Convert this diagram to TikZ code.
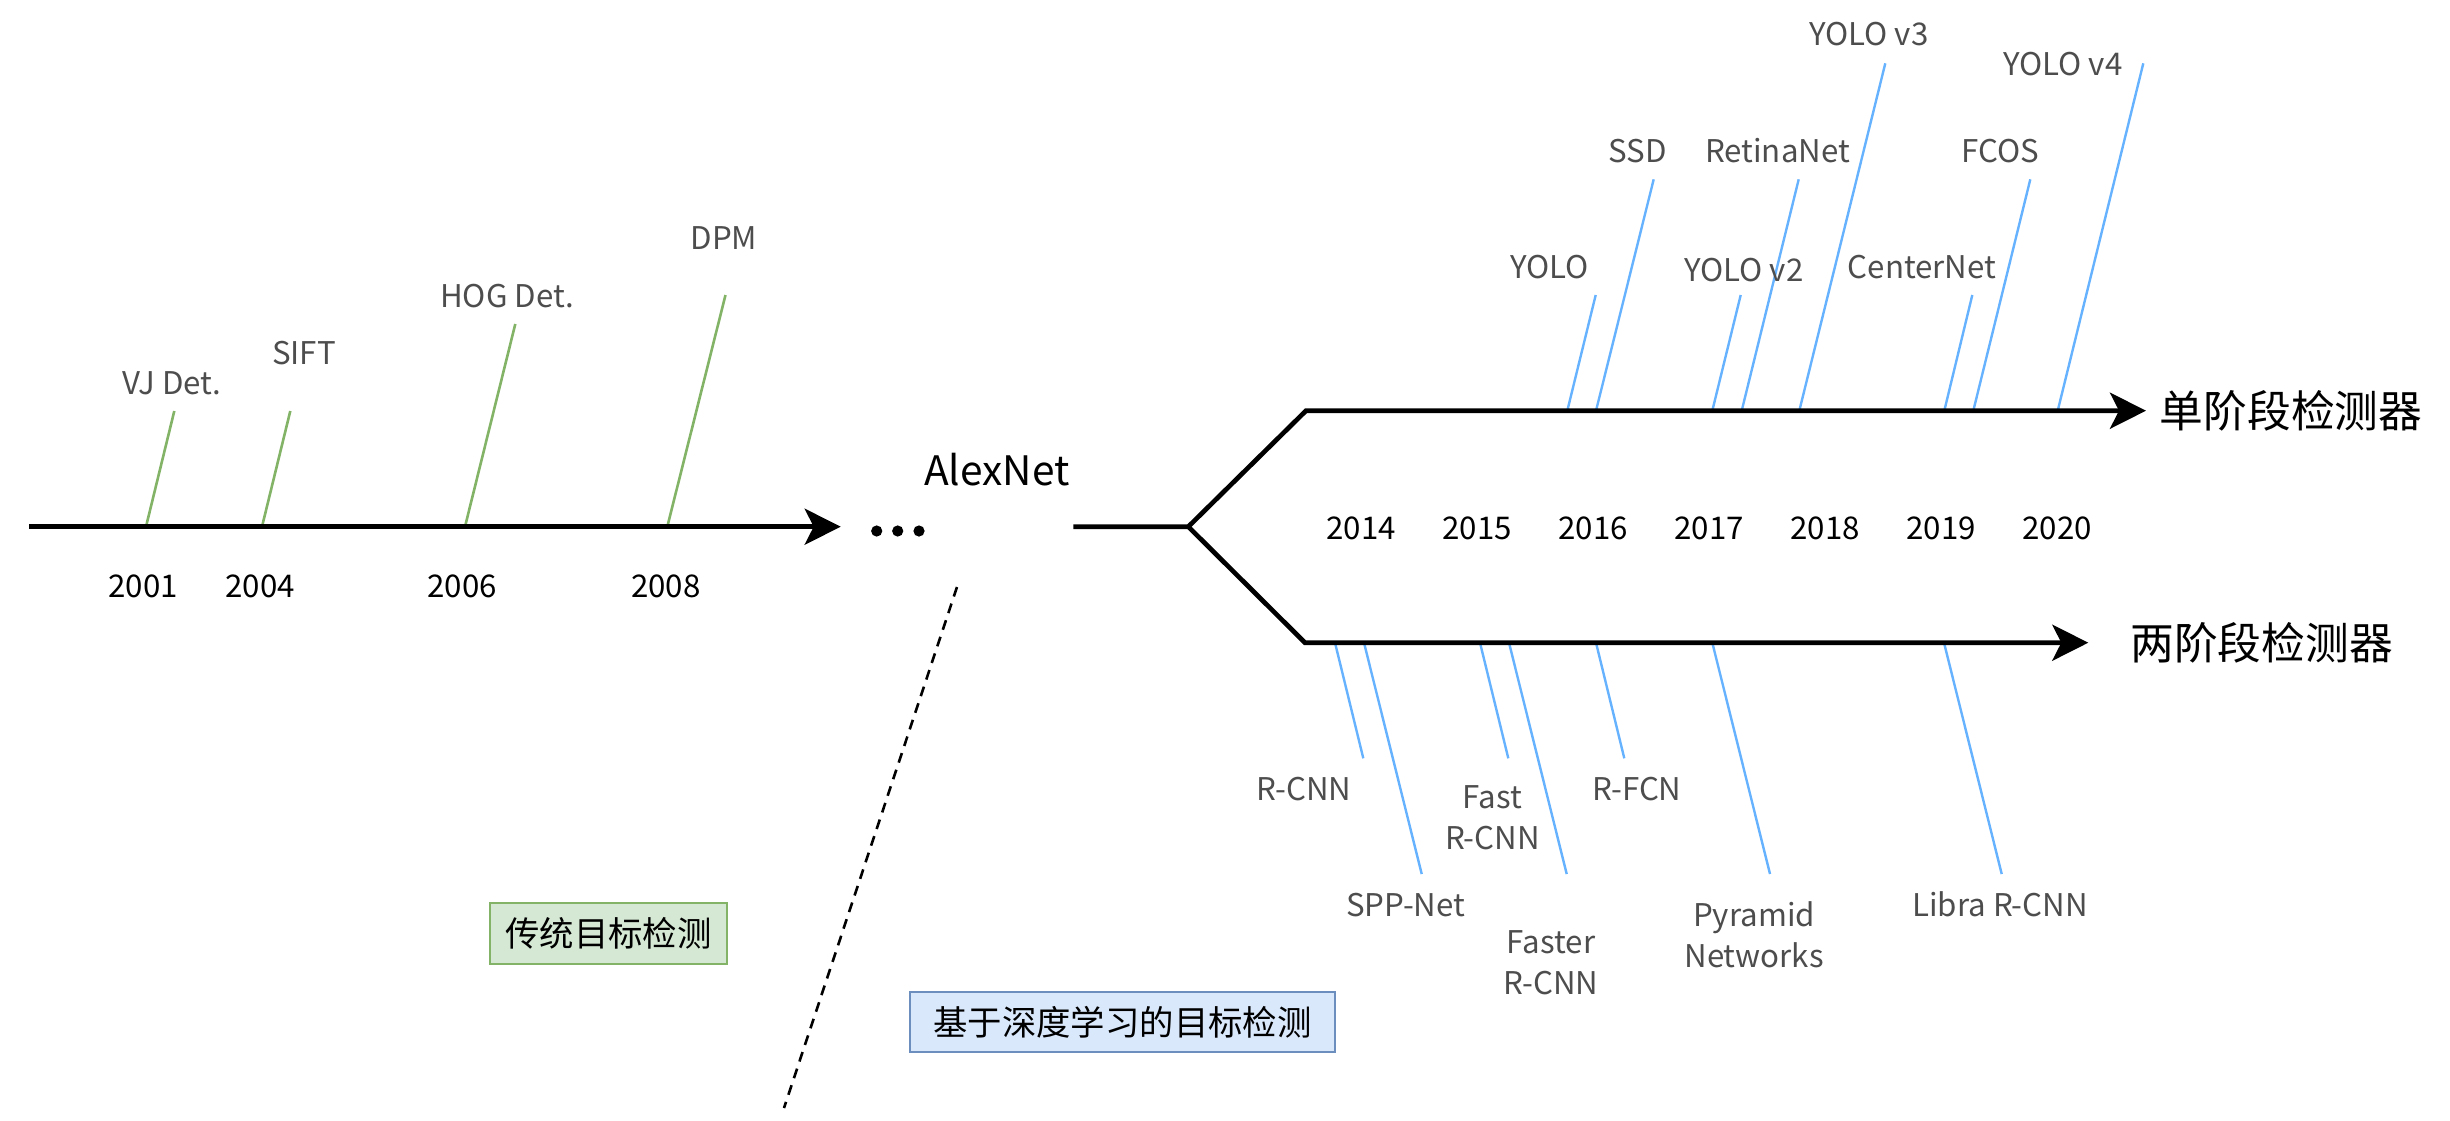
\documentclass[tikz,border=0pt]{standalone}
\usepackage{fontspec}
\setmainfont{Noto Sans CJK SC}
\usetikzlibrary{arrows.meta}
\definecolor{tickgreen}{HTML}{82B366}
\definecolor{tickblue}{HTML}{66B2FF}
\definecolor{labgray}{HTML}{4D4D4D}
\definecolor{gfill}{HTML}{D5E8D4}
\definecolor{bfill}{HTML}{DAE8FC}
\definecolor{bdraw}{HTML}{6C8EBF}
\begin{document}
\begin{tikzpicture}[x=1pt,y=-1pt,
  lbl/.style={inner sep=0pt, anchor=base, text=labgray, font=\fontsize{31.25}{41}\selectfont},
  lbltwo/.style={inner sep=0pt, anchor=center, align=center, text=labgray, font=\fontsize{31.25}{41}\selectfont},
  yr/.style={inner sep=0pt, anchor=base, text=black, font=\fontsize{31.25}{41}\selectfont},
  bigl/.style={inner sep=0pt, anchor=center, text=black, font=\fontsize{43.75}{50}\selectfont},
  mainline/.style={line width=4.7pt, line join=miter},
  arrowend/.style={-{Stealth[length=36pt,width=36pt,inset=9pt]}},
  gtick/.style={draw=tickgreen, line width=2.6pt},
  btick/.style={draw=tickblue, line width=2.4pt},
  boxtxt/.style={line width=2.5pt, inner sep=0pt, anchor=center, font=\fontsize{34.4}{40}\selectfont}
]
\useasboundingbox (0,0) rectangle (2450,1120);

% ---------- green ticks (traditional) ----------
\coordinate (vjB) at (146,526.7);   \coordinate (vjT) at (174.3,411);
\coordinate (siB) at (262,526.7);   \coordinate (siT) at (290.3,411);
\coordinate (hoB) at (465,526.7);   \coordinate (hoT) at (515.3,324);
\coordinate (dpB) at (667.3,526.7); \coordinate (dpT) at (725.5,295);
\draw[gtick] (vjB) -- (vjT);
\draw[gtick] (siB) -- (siT);
\draw[gtick] (hoB) -- (hoT);
\draw[gtick] (dpB) -- (dpT);

% ---------- blue ticks (one stage) ----------
\coordinate (yoB) at (1567.3,410.7); \coordinate (yoT) at (1595.7,295);
\coordinate (ssB) at (1596,410.7);   \coordinate (ssT) at (1653.7,179.3);
\coordinate (y2B) at (1712.3,410.7); \coordinate (y2T) at (1740.7,295);
\coordinate (reB) at (1741.7,410.7); \coordinate (reT) at (1798.7,179.3);
\coordinate (y3B) at (1799.3,410.7); \coordinate (y3T) at (1885.3,63.3);
\coordinate (ceB) at (1944.3,410.7); \coordinate (ceT) at (1972.3,295);
\coordinate (fcB) at (1973.3,410.7); \coordinate (fcT) at (2030.3,179.3);
\coordinate (y4B) at (2057.7,410.7); \coordinate (y4T) at (2143.3,63.3);
\foreach \n in {yo,ss,y2,re,y3,ce,fc,y4} {\draw[btick] (\n B) -- (\n T);}

% ---------- blue ticks (two stage) ----------
\coordinate (rcT) at (1335,642.7);   \coordinate (rcB) at (1363.3,758.3);
\coordinate (spT) at (1364,642.7);   \coordinate (spB) at (1421.7,874);
\coordinate (faT) at (1480,642.7);   \coordinate (faB) at (1508.3,758.3);
\coordinate (frT) at (1509,642.7);   \coordinate (frB) at (1566.7,874);
\coordinate (rfT) at (1596,642.7);   \coordinate (rfB) at (1624.3,758.3);
\coordinate (pyT) at (1712.3,642.7); \coordinate (pyB) at (1770,874);
\coordinate (liT) at (1944,642.7);   \coordinate (liB) at (2001.7,874);
\foreach \n in {rc,sp,fa,fr,rf,py,li} {\draw[btick] (\n T) -- (\n B);}

% ---------- main black lines ----------
\coordinate (L0) at (29.3,526.7);
\coordinate (L1) at (840.7,526.7);
\coordinate (A0) at (1073.3,526.7);
\coordinate (Fk) at (1188.3,526.7);
\coordinate (U0) at (1306,410.7);
\coordinate (U1) at (2146,410.7);
\coordinate (D0) at (1305,642.7);
\coordinate (D1) at (2088.3,642.7);
\draw[mainline, arrowend] (L0) -- (L1);
\draw[mainline, arrowend] (A0) -- (Fk) -- (U0) -- (U1);
\draw[mainline, arrowend] (Fk) -- (D0) -- (D1);

% ellipsis dots
\fill (876.7,531) circle (5.6);
\fill (897.7,531) circle (5.6);
\fill (919,531) circle (5.6);

% dashed separator
\coordinate (S0) at (957,587);
\coordinate (S1) at (784,1108);
\draw[line width=2.6pt, dash pattern=on 10pt off 7.5pt] (S0) -- (S1);

% ---------- labels ----------
\node[lbl] (vj)  at (172,394)   {VJ Det.};
\node[lbl] (sift) at (304,364.7) {SIFT};
\node[lbl] (hog) at (507,307)   {HOG Det.};
\node[lbl] (dpm) at (724,249.3) {DPM};

\node[yr] (y2001) at (143.3,597.3) {2001};
\node[yr] (y2004) at (260,597.3)   {2004};
\node[yr] (y2006) at (462.3,597.3) {2006};
\node[yr] (y2008) at (665.8,597.3) {2008};

\node[inner sep=0pt, anchor=base, font=\fontsize{40.6}{46}\selectfont] (alex) at (996.7,485) {AlexNet};

\node[yr] (y2014) at (1361.3,539.3) {2014};
\node[yr] (y2015) at (1477,539.3)   {2015};
\node[yr] (y2016) at (1593.3,539.3) {2016};
\node[yr] (y2017) at (1709,539.3)   {2017};
\node[yr] (y2018) at (1825,539.3)   {2018};
\node[yr] (y2019) at (1941,539.3)   {2019};
\node[yr] (y2020) at (2057,539.3)   {2020};

\node[lbl] (yolo)  at (1549.7,278.3) {YOLO};
\node[lbl] (ssd)   at (1637.5,162.7) {SSD};
\node[lbl] (yolo2) at (1744,281)     {YOLO v2};
\node[lbl] (retina) at (1777.5,162.7) {RetinaNet};
\node[lbl] (yolo3) at (1869,45.7)    {YOLO v3};
\node[lbl] (center) at (1922,278)    {CenterNet};
\node[lbl] (fcos)  at (2000,162.7)   {FCOS};
\node[lbl] (yolo4) at (2063,75)      {YOLO v4};

\node[lbl] (rcnn) at (1304,800)    {R-CNN};
\node[lbl] (spp)  at (1405.7,916)  {SPP-Net};
\node[lbltwo] (fast) at (1492.5,818) {Fast\\R-CNN};
\node[lbl] (rfcn) at (1637,800)    {R-FCN};
\node[lbltwo] (faster) at (1551,962.3) {Faster\\R-CNN};
\node[lbltwo] (pyr) at (1754,934.5) {Pyramid\\Networks};
\node[lbl] (libra) at (2000,916)   {Libra R-CNN};

\node[bigl] (one) at (2291,411)   {单阶段检测器};
\node[bigl] (two) at (2261.7,643) {两阶段检测器};

\node[boxtxt, draw=tickgreen, fill=gfill, minimum width=237pt, minimum height=61pt] (trad) at (608.5,933.5) {传统目标检测};
\node[boxtxt, draw=bdraw, fill=bfill, minimum width=425pt, minimum height=60pt] (deep) at (1122.5,1022) {基于深度学习的目标检测};
\end{tikzpicture}
\end{document}
